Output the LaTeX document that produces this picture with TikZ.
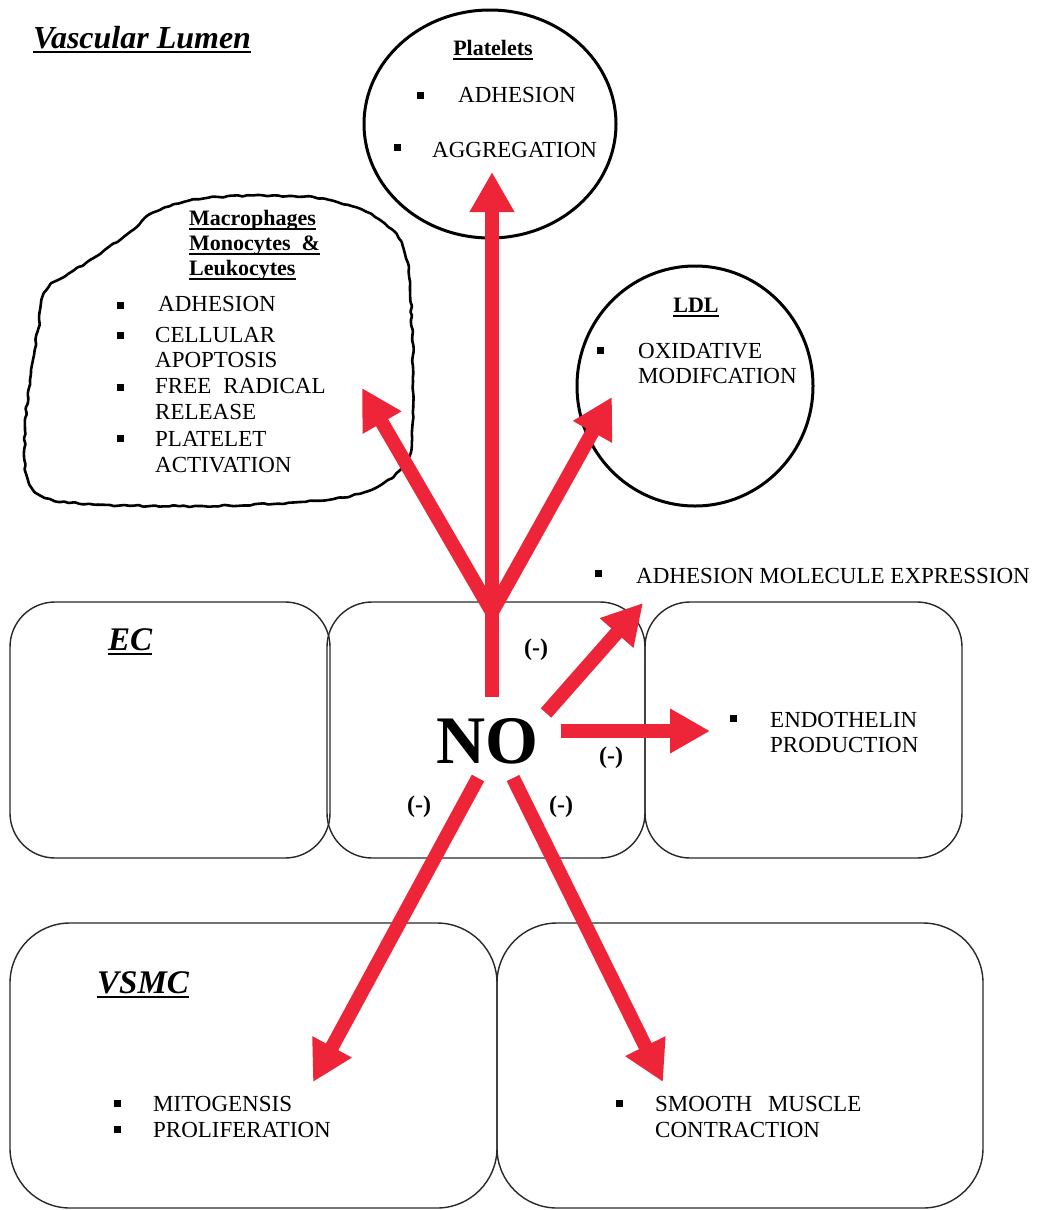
\documentclass[tikz,border=0pt]{standalone}
\usepackage{fontspec}
\setmainfont{Liberation Serif}
\usetikzlibrary{arrows.meta,decorations.pathmorphing,shapes.geometric}
\definecolor{arrred}{RGB}{238,36,56}
\definecolor{boxline}{RGB}{40,40,40}
\newcommand\myul[2][2pt]{\setbox0\hbox{#2}\rlap{\rule[-5pt]{\wd0}{#1}}\box0}
\begin{document}
\begin{tikzpicture}[x=1pt,y=-1pt,
 txt/.style={anchor=base west,inner sep=0pt,font=\fontsize{23}{26}\selectfont},
 bul/.style={fill=black,draw=none,inner sep=0pt,minimum size=7pt,rectangle},
 hd/.style={anchor=base,inner sep=0pt,font=\fontsize{22}{25}\selectfont\bfseries},
 ttl/.style={anchor=base west,inner sep=0pt,font=\fontsize{32}{36}\selectfont\bfseries\itshape},
 cellbox/.style={draw=boxline,line width=1.4pt,rounded corners=45pt,rectangle,inner sep=0pt},
 vbox/.style={draw=boxline,line width=1.4pt,rounded corners=60pt,rectangle,inner sep=0pt},
 ring/.style={draw=black,line width=3pt,ellipse,inner sep=0pt},
 redarrow/.style={draw=arrred,line width=14pt,-{Triangle[width=42pt,length=40pt]}},
 minus/.style={inner sep=0pt,font=\fontsize{24}{26}\selectfont\bfseries},
]
\useasboundingbox (0,0) rectangle (1042,1210);
\fill[white] (0,0) rectangle (1042,1210);

% cells
\node[cellbox,minimum width=320pt,minimum height=256pt] (ec1) at (170,730) {};
\node[cellbox,minimum width=318pt,minimum height=256pt] (ec2) at (486,730) {};
\node[cellbox,minimum width=317pt,minimum height=256pt] (ec3) at (803.5,730) {};
\node[vbox,minimum width=487pt,minimum height=285pt] (vs1) at (253.5,1065.5) {};
\node[vbox,minimum width=486pt,minimum height=285pt] (vs2) at (740,1065.5) {};

% circles
\node[ring,minimum width=252pt,minimum height=228pt] (plat) at (490,124) {};
\node[ring,minimum width=236pt,minimum height=240pt] (ldl) at (695,386) {};

% blob
\pgfmathsetseed{7}
\draw[line width=2.6pt,decorate,decoration={random steps,segment length=5pt,amplitude=1pt},rounded corners=1pt]
 plot[smooth cycle,tension=0.6] coordinates {(207,198) (287,196) (337,202) (380,220) (403,247) (410,290) (413,367) (412,440) (400,470) (365,492) (300,502) (200,506) (110,505) (50,499) (28,480) (25,430) (30,380) (38,330) (45,292) (68,274) (100,254) (130,232) (155,212)};

% titles
\node[ttl,font=\fontsize{32}{36}\selectfont\bfseries\itshape] (vl) at (33,48) {\myul[2.5pt]{Vascular Lumen}};
\node[ttl,font=\fontsize{33}{36}\selectfont\bfseries\itshape] (ect) at (108,650) {\myul[2.5pt]{EC}};
\node[ttl,font=\fontsize{33}{36}\selectfont\bfseries\itshape] (vsm) at (97,993) {\myul[2.5pt]{VSMC}};

% platelets
\node[hd] (plt) at (493,55) {\myul{Platelets}};
\node[bul] (pb1) at (420,95) {}; \node[txt] (pt1) at (458,102) {ADHESION};
\node[bul] (pb2) at (397,147) {}; \node[txt] (pt2) at (432,157) {AGGREGATION};

% LDL
\node[hd] (ldlt) at (696,312) {\myul{LDL}};
\node[bul] (lb1) at (600,350) {};
\node[txt] (lt1) at (638,358) {OXIDATIVE};
\node[txt] (lt2) at (638,383) {MODIFCATION};

% macrophages
\node[hd,anchor=base west] (mh1) at (189,225) {\myul{Macrophages}};
\node[hd,anchor=base west] (mh2) at (189,250) {\myul{Monocytes\hspace{11pt}\&}};
\node[hd,anchor=base west] (mh3) at (189,275) {\myul{Leukocytes}};
\node[bul] (mb1) at (120,305) {}; \node[txt] (mt1) at (158,311) {ADHESION};
\node[bul] (mb2) at (120,335) {}; \node[txt] (mt2) at (155,342) {CELLULAR};
\node[txt] (mt3) at (155,367) {APOPTOSIS};
\node[bul] (mb3) at (120,387) {}; \node[txt] (mt4) at (155,393) {FREE\hspace{12pt}RADICAL};
\node[txt] (mt5) at (155,419) {RELEASE};
\node[bul] (mb4) at (120,438) {}; \node[txt] (mt6) at (155,446) {PLATELET};
\node[txt] (mt7) at (155,472) {ACTIVATION};

% EC effects
\node[bul] (ab1) at (598,573) {}; \node[txt] (at1) at (636,583) {ADHESION MOLECULE EXPRESSION};
\node[bul] (eb1) at (733,718) {}; \node[txt] (et1) at (770,727) {ENDOTHELIN};
\node[txt] (et2) at (770,752) {PRODUCTION};

% VSMC effects
\node[bul] (vb1) at (117,1103) {}; \node[txt] (vt1) at (153,1111) {MITOGENSIS};
\node[bul] (vb2) at (117,1129) {}; \node[txt] (vt2) at (153,1137) {PROLIFERATION};
\node[bul] (sb1) at (619,1103) {}; \node[txt] (st1) at (655,1111) {SMOOTH\hspace{10pt} MUSCLE};
\node[txt] (st2) at (655,1137) {CONTRACTION};

% NO
\node[anchor=base,inner sep=0pt,font=\fontsize{68}{70}\selectfont\bfseries] (no) at (487,763) {NO};

% arrows
\coordinate (vstart) at (492,697);
\coordinate (fork) at (492,612);
\coordinate (tplat) at (492,172);
\coordinate (tmac) at (362,388);
\coordinate (tldl) at (612,397);
\coordinate (sadh) at (546,713);
\coordinate (tadh) at (643,603);
\coordinate (sendo) at (561,731);
\coordinate (tendo) at (710,731);
\coordinate (sdl) at (478,778);
\coordinate (tdl) at (313,1082);
\coordinate (sdr) at (513,778);
\coordinate (tdr) at (663,1082);
\draw[redarrow] (vstart) -- (tplat);
\draw[redarrow] (fork) -- (tmac);
\draw[redarrow] (fork) -- (tldl);
\draw[redarrow] (sadh) -- (tadh);
\draw[redarrow] (sendo) -- (tendo);
\draw[redarrow] (sdl) -- (tdl);
\draw[redarrow] (sdr) -- (tdr);

% minus signs
\node[minus] (m1) at (536,650) {(-)};
\node[minus] (m2) at (611,758) {(-)};
\node[minus] (m3) at (419,807) {(-)};
\node[minus] (m4) at (561,807) {(-)};
\end{tikzpicture}
\end{document}
